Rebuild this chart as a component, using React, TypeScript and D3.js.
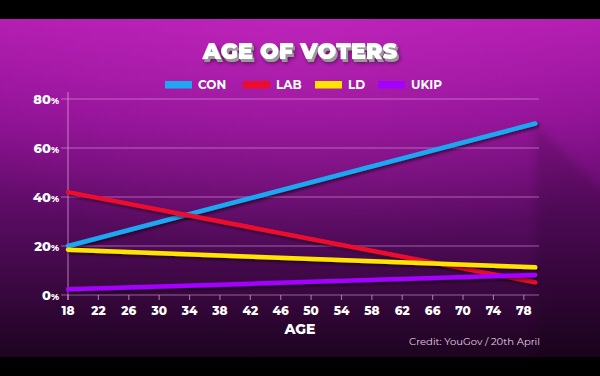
import React from "react";
import * as d3 from "d3";

const parties = ["CON", "LAB", "LD", "UKIP"];
const partyColors = ["#1ea7f2", "#ec0d2e", "#ffe400", "#a300ff"];
const ages = [18, 79.5];
const conValues = [20, 70];
const labValues = [42, 5.2];
const ldValues = [18.5, 11.3];
const ukipValues = [2.3, 8.2];
const xTicks = [18, 22, 26, 30, 34, 38, 42, 46, 50, 54, 58, 62, 66, 70, 74, 78];
const yTicks = [0, 20, 40, 60, 80];

const W = 600;
const H = 376;

export default function App() {
  const x = d3.scaleLinear().domain([18, 80]).range([68, 539]);
  const y = d3.scaleLinear().domain([0, 80]).range([295, 99]);
  const series = [conValues, labValues, ldValues, ukipValues];
  const line = d3
    .line<number>()
    .x((_, i) => x(ages[i]))
    .y((v) => y(v));
  const font = "Montserrat, 'Open Sans', Lato, sans-serif";

  const legendX = [165, 243, 315, 378];
  const ex = x(ages[1]);
  const ey = y(conValues[1]);

  return (
    <svg
      width={W}
      height={H}
      style={{ position: "absolute", left: 0, top: 0, display: "block" }}
    >
      <defs>
        <linearGradient id="bg" x1="0" y1="0" x2="0" y2="1">
          <stop offset="0" stopColor="#b11cb0" />
          <stop offset="0.3" stopColor="#8c1192" />
          <stop offset="0.6" stopColor="#560b5f" />
          <stop offset="1" stopColor="#1d0420" />
        </linearGradient>
        <radialGradient id="glow" cx="0.5" cy="0" r="0.7">
          <stop offset="0" stopColor="#d030c8" stopOpacity="0.4" />
          <stop offset="1" stopColor="#d030c8" stopOpacity="0" />
        </radialGradient>
        <filter id="blur8">
          <feGaussianBlur stdDeviation="4" />
        </filter>
        <filter id="ls" x="-10%" y="-50%" width="120%" height="200%">
          <feDropShadow dx="2" dy="2" stdDeviation="1.5" floodColor="#000" floodOpacity="0.55" />
        </filter>
        <filter id="extrude" x="-10%" y="-40%" width="125%" height="200%">
          <feOffset in="SourceAlpha" dx="2.5" dy="4" result="o3" />
          <feGaussianBlur in="o3" stdDeviation="2" result="sh" />
          <feFlood floodColor="#000" floodOpacity="0.55" />
          <feComposite in2="sh" operator="in" result="shadow" />
          <feOffset in="SourceAlpha" dx="0.8" dy="1.3" result="a1" />
          <feOffset in="SourceAlpha" dx="1.6" dy="2.6" result="a2" />
          <feMerge result="ext">
            <feMergeNode in="a1" />
            <feMergeNode in="a2" />
          </feMerge>
          <feFlood floodColor="#9a9a9a" />
          <feComposite in2="ext" operator="in" result="gray" />
          <feMerge>
            <feMergeNode in="shadow" />
            <feMergeNode in="gray" />
            <feMergeNode in="SourceGraphic" />
          </feMerge>
        </filter>
      </defs>
      <rect x={0} y={0} width={W} height={H} fill="#000" />
      <rect x={0} y={19} width={W} height={338} fill="url(#bg)" />
      <rect x={0} y={19} width={W} height={338} fill="url(#glow)" />
      {/* soft shadow cast by chart to the right */}
      <polygon
        points={`${ex},${ey} ${W + 10},${ey + 75} ${W + 10},${357} ${ex},${357}`}
        fill="#000"
        opacity={0.14}
        filter="url(#blur8)"
      />

      {/* title */}
      <text
        x={300}
        y={59}
        fontFamily={font}
        fontWeight={900}
        fontSize={22.5}
        textAnchor="middle"
        fill="#fff"
        filter="url(#extrude)"
      >
        AGE OF VOTERS
      </text>

      {/* legend */}
      <g fontFamily={font} fontWeight={700} fontSize={12} fill="#fff">
        {parties.map((p, i) => (
          <g key={p}>
            <rect x={legendX[i]} y={81} width={27} height={7.5} fill={partyColors[i]} />
            <text x={legendX[i] + 33} y={89}>{p}</text>
          </g>
        ))}
      </g>

      {/* gridlines */}
      {yTicks.map((t) => (
        <line
          key={t}
          x1={61}
          x2={539}
          y1={y(t)}
          y2={y(t)}
          stroke="#e6a8e6"
          strokeOpacity={0.55}
          strokeWidth={1.2}
        />
      ))}
      <line x1={x(18)} x2={x(18)} y1={92} y2={300} stroke="#e6a8e6" strokeOpacity={0.6} strokeWidth={1.2} />
      {xTicks.map((t) => (
        <line
          key={t}
          x1={x(t)}
          x2={x(t)}
          y1={y(0)}
          y2={y(0) + 5}
          stroke="#e6a8e6"
          strokeOpacity={0.6}
          strokeWidth={1.2}
        />
      ))}

      {/* y labels */}
      <g fontFamily={font} fontWeight={800} fill="#fff" textAnchor="end">
        {yTicks.map((t) => (
          <text key={t} x={59} y={y(t) + 4.5} fontSize={13}>
            {t}
            <tspan fontSize={9}>%</tspan>
          </text>
        ))}
      </g>

      {/* x labels */}
      <g fontFamily={font} fontWeight={800} fill="#fff" textAnchor="middle" fontSize={12}>
        {xTicks.map((t) => (
          <text key={t} x={x(t)} y={315}>
            {t}
          </text>
        ))}
      </g>
      <text x={300} y={334} fontFamily={font} fontWeight={800} fontSize={14} fill="#fff" textAnchor="middle">
        AGE
      </text>
      <text x={540} y={345} fontFamily={font} fontSize={10} fill="#e0d0e0" textAnchor="end">
        Credit: YouGov / 20th April
      </text>

      {/* lines */}
      {series.map((s, i) => (
        <path
          key={parties[i]}
          d={line(s) || ""}
          fill="none"
          stroke={partyColors[i]}
          strokeWidth={4.5}
          strokeLinecap="round"
          filter="url(#ls)"
        />
      ))}
    </svg>
  );
}
